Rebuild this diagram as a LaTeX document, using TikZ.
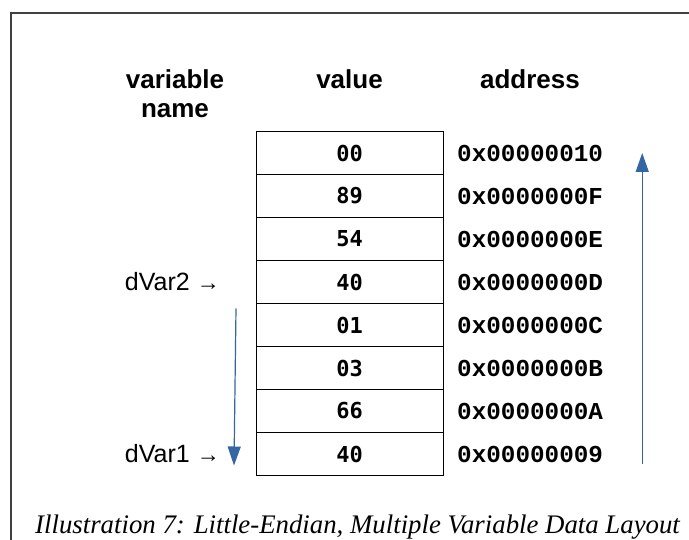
\documentclass[tikz,border=0pt]{standalone}
\usepackage{fontspec}
\setmainfont{Liberation Sans}
\newfontfamily\addrfont{Liberation Mono}
\newfontfamily\valfont{DejaVu Sans Mono}
\newfontfamily\capfont{Liberation Serif}
\usetikzlibrary{arrows.meta,positioning}
\definecolor{flowblue}{HTML}{3465A4}

\begin{document}
\begin{tikzpicture}[x=1pt, y=-1pt,
    cell/.style={rectangle, draw, line width=1pt, outer sep=0pt, inner sep=0pt, minimum width=187pt, minimum height=43pt, font=\valfont\bfseries\fontsize{22}{26}\selectfont},
    addr/.style={inner sep=0pt, font=\addrfont\bfseries\fontsize{24.3}{28}\selectfont},
    head/.style={inner sep=0pt, anchor=base, align=center, font=\bfseries\fontsize{26}{29}\selectfont},
    var/.style={inner sep=0pt, font=\fontsize{25}{28}\selectfont},
    flow/.style={-{Triangle[width=13pt,length=19pt]}, flowblue, line width=1.2pt},
    frame/.style={line width=1.6pt, black!75}
]
\useasboundingbox (0,0) rectangle (689,540);

% Outer frame
\draw[frame] (11,540) -- (11,13) -- (689,13);

% Column headings
\node[head] (hname) at (175,118) {variable\\name};
\node[head] (hvalue) at (349.5,89) {value};
\node[head] (haddr) at (530,89) {address};

% Memory cells, highest address on top
\node[cell] (c1) at (349.5,153) {00};
\node[cell, below=0pt of c1] (c2) {89};
\node[cell, below=0pt of c2] (c3) {54};
\node[cell, below=0pt of c3] (c4) {40};
\node[cell, below=0pt of c4] (c5) {01};
\node[cell, below=0pt of c5] (c6) {03};
\node[cell, below=0pt of c6] (c7) {66};
\node[cell, below=0pt of c7] (c8) {40};

% Addresses
\node[addr, right=14pt of c1] (a1) {0x00000010};
\node[addr, right=14pt of c2] (a2) {0x0000000F};
\node[addr, right=14pt of c3] (a3) {0x0000000E};
\node[addr, right=14pt of c4] (a4) {0x0000000D};
\node[addr, right=14pt of c5] (a5) {0x0000000C};
\node[addr, right=14pt of c6] (a6) {0x0000000B};
\node[addr, right=14pt of c7] (a7) {0x0000000A};
\node[addr, right=14pt of c8] (a8) {0x00000009};

% Variable names
\node[var, left=36pt of c4] (dvar2) {dVar2 {\fontsize{23}{27}\selectfont→}};
\node[var, left=36pt of c8] (dvar1) {dVar1 {\fontsize{23}{27}\selectfont→}};

% Direction arrows
\draw[flow] ([xshift=-20pt, yshift=-5pt]c5.north west) -- ([xshift=-22pt, yshift=10pt]c8.south west);
\draw[flow] ([xshift=39pt, yshift=-10pt]a8.east) -- ([xshift=39pt]a1.east);

\node[inner sep=0pt, anchor=base west, font=\capfont\itshape\fontsize{26.8}{30}\selectfont] (caption) at (35,533) {Illustration 7: Little-Endian, Multiple Variable Data Layout};

\end{tikzpicture}
\end{document}
